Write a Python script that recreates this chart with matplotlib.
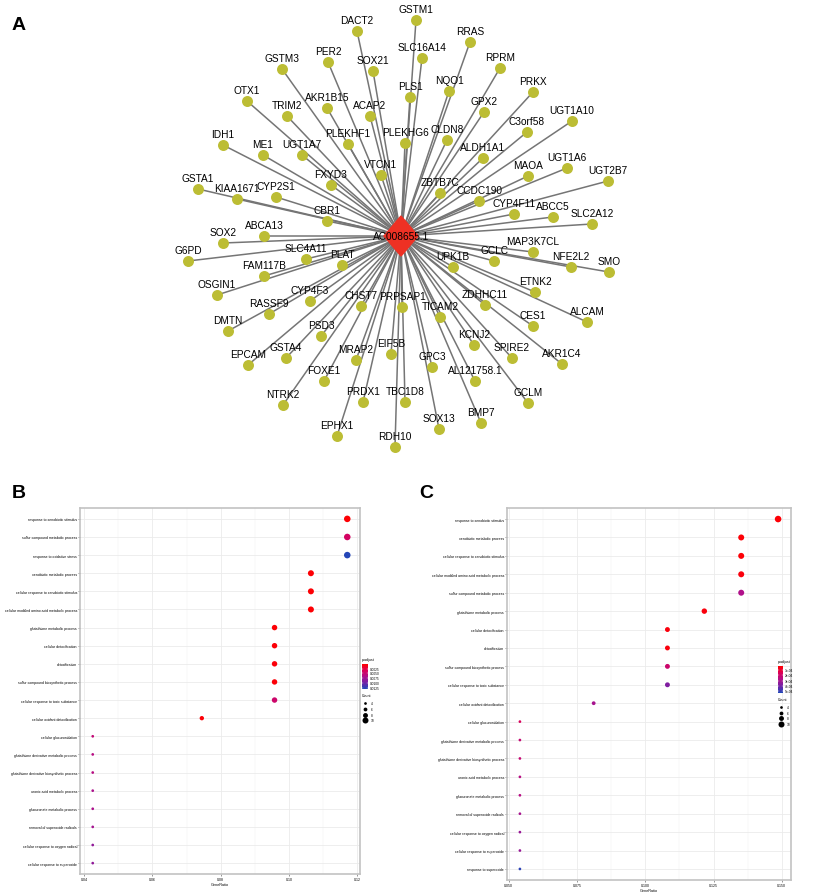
import matplotlib
matplotlib.use('Agg')
import matplotlib.pyplot as plt
import numpy as np
from matplotlib.colors import LinearSegmentedColormap, Normalize
from matplotlib.patches import Polygon

plt.rcParams['font.family'] = ['Liberation Sans', 'DejaVu Sans']

W, H = 815, 895
DPI = 100

# ---- panel A: lncRNA - mRNA network (layout, hub at 0,0)
hub_name = 'AC008655.1'
gene_names = ['DACT2', 'GSTM1', 'RRAS', 'SLC16A14', 'RPRM', 'GSTM3', 'PER2', 'SOX21',
              'NQO1', 'PRKX', 'PLS1', 'OTX1', 'TRIM2', 'AKR1B15', 'ACAP2', 'GPX2',
              'UGT1A10', 'C3orf58', 'IDH1', 'ME1', 'UGT1A7', 'PLEKHF1', 'PLEKHG6', 'CLDN8',
              'ALDH1A1', 'UGT1A6', 'MAOA', 'UGT2B7', 'VTCN1', 'FXYD3', 'ZBTB7C', 'CCDC190',
              'GSTA1', 'KIAA1671', 'CYP2S1', 'CYP4F11', 'ABCC5', 'SLC2A12', 'CBR1', 'ABCA13',
              'SOX2', 'G6PD', 'SLC4A11', 'PLAT', 'FAM117B', 'OSGIN1', 'CYP4F3', 'RASSF9',
              'CHST7', 'PRPSAP1', 'DMTN', 'PSD3', 'EPCAM', 'GSTA4', 'MRAP2', 'EIF5B',
              'FOXE1', 'NTRK2', 'PRDX1', 'TBC1D8', 'EPHX1', 'RDH10', 'MAP3K7CL', 'GCLC',
              'UPK1B', 'NFE2L2', 'SMO', 'ETNK2', 'ZDHHC11', 'TICAM2', 'ALCAM', 'CES1',
              'KCNJ2', 'SPIRE2', 'AKR1C4', 'GPC3', 'AL121758.1', 'GCLM', 'BMP7', 'SOX13']
gene_x = [-44, 15, 69, 21, 99, -119, -73, -28,
          48, 132, 9, -154, -114, -74, -31, 83,
          171, 126, -178, -138, -99, -53, 4, 46,
          82, 166, 127, 207, -20, -70, 39, 78,
          -203, -164, -125, 113, 152, 191, -74, -137,
          -178, -213, -95, -59, -137, -184, -91, -132,
          -40, 1, -173, -80, -153, -115, -45, -10,
          -77, -118, -38, 4, -64, -6, 132, 93,
          52, 170, 208, 134, 84, 39, 186, 132,
          73, 111, 161, 31, 74, 127, 80, 38]
gene_y = [205, 216, 194, 178, 168, 167, 174, 165,
          145, 144, 139, 135, 120, 128, 120, 124,
          115, 104, 91, 81, 81, 92, 93, 96,
          78, 68, 60, 55, 61, 51, 43, 35,
          47, 37, 39, 22, 19, 12, 15, 0,
          -7, -25, -23, -29, -40, -59, -65, -78,
          -70, -71, -95, -100, -129, -122, -124, -118,
          -145, -169, -166, -166, -200, -211, -16, -25,
          -31, -31, -36, -56, -69, -81, -86, -90,
          -109, -122, -128, -131, -145, -167, -187, -193]

# ---- panel B: GO enrichment, set 1
terms_b = ['response to xenobiotic stimulus', 'sulfur compound metabolic process',
           'response to oxidative stress', 'xenobiotic metabolic process',
           'cellular response to xenobiotic stimulus',
           'cellular modified amino acid metabolic process', 'glutathione metabolic process',
           'cellular detoxification', 'detoxification', 'sulfur compound biosynthetic process',
           'cellular response to toxic substance', 'cellular oxidant detoxification',
           'cellular glucuronidation', 'glutathione derivative metabolic process',
           'glutathione derivative biosynthetic process', 'uronic acid metabolic process',
           'glucuronate metabolic process', 'removal of superoxide radicals',
           'cellular response to oxygen radical', 'cellular response to superoxide']
count_b = [11, 11, 11, 10, 10, 10, 9, 9, 9, 9, 9, 7, 4, 4, 4, 4, 4, 4, 4, 4]
padj_b = [0.0003, 0.0040, 0.0128, 0.0003, 0.0003, 0.0003, 0.0003, 0.0004, 0.0005, 0.0004,
          0.0045, 0.0004, 0.0052, 0.0060, 0.0060, 0.0068, 0.0068, 0.0072, 0.0082, 0.0082]
total_b = 94
padj_ticks_b = [0.0025, 0.0050, 0.0075, 0.0100, 0.0125]
padj_labels_b = ['0.0025', '0.0050', '0.0075', '0.0100', '0.0125']
xticks_b = [0.04, 0.06, 0.08, 0.10, 0.12]
xlabels_b = ['0.04', '0.06', '0.08', '0.10', '0.12']

# ---- panel C: GO enrichment, set 2
terms_c = ['response to xenobiotic stimulus', 'xenobiotic metabolic process',
           'cellular response to xenobiotic stimulus',
           'cellular modified amino acid metabolic process', 'sulfur compound metabolic process',
           'glutathione metabolic process', 'cellular detoxification', 'detoxification',
           'sulfur compound biosynthetic process', 'cellular response to toxic substance',
           'cellular oxidant detoxification', 'cellular glucuronidation',
           'glutathione derivative metabolic process',
           'glutathione derivative biosynthetic process', 'uronic acid metabolic process',
           'glucuronate metabolic process', 'removal of superoxide radicals',
           'cellular response to oxygen radical', 'cellular response to superoxide',
           'response to superoxide']
count_c = [11, 10, 10, 10, 10, 9, 8, 8, 8, 8, 6, 4, 4, 4, 4, 4, 4, 4, 4, 4]
padj_c = [0.00003, 0.00003, 0.00003, 0.00004, 0.00028, 0.00004, 0.00004, 0.00004, 0.00020,
          0.00038, 0.00030, 0.00016, 0.00022, 0.00022, 0.00026, 0.00026, 0.00030, 0.00033,
          0.00033, 0.00052]
total_c = 74
padj_ticks_c = [0.0001, 0.0002, 0.0003, 0.0004, 0.0005]
padj_labels_c = ['1e-04', '2e-04', '3e-04', '4e-04', '5e-04']
xticks_c = [0.050, 0.075, 0.100, 0.125, 0.150]
xlabels_c = ['0.050', '0.075', '0.100', '0.125', '0.150']

legend_counts = [4, 6, 8, 10]

cmap = LinearSegmentedColormap.from_list(
    'padj', ['#ff0000', '#dc0058', '#b0108a', '#7222a8', '#2048b8'])


def px(v):
    return v * 72.0 / DPI


def dot_size(c):
    d = 0.55 * np.asarray(c, dtype=float) + 0.5
    return px(d) ** 2


fig = plt.figure(figsize=(W / DPI, H / DPI), dpi=DPI)

# ---------- A
ax_a = fig.add_axes([0, 1 - 470 / H, 1, 470 / H])
ax_a.set_xlim(-401, W - 401)
ax_a.set_ylim(237 - 470, 237)
ax_a.axis('off')
for gx, gy in zip(gene_x, gene_y):
    ax_a.plot([0, gx], [0, gy], color='#757575', lw=1.1, zorder=1, solid_capstyle='butt')
ax_a.scatter(gene_x, gene_y, s=px(11) ** 2, color='#bcbd34', linewidths=0, zorder=2)
for name, gx, gy in zip(gene_names, gene_x, gene_y):
    ax_a.text(gx, gy + 11, name, ha='center', va='center', fontsize=7.3, zorder=3)
ax_a.add_patch(Polygon([(0, 20), (17, 0), (0, -20), (-17, 0)], closed=True,
                       color='#ee3124', zorder=4))
ax_a.text(0, 0, hub_name, ha='center', va='center', fontsize=7.3, zorder=5)


# ---------- B and C
def dot_panel(rect, terms, counts, padj, total, norm, xticks, xlabels, step):
    ax = fig.add_axes(rect)
    y = np.arange(len(terms))
    ratio = np.asarray(counts) / total
    ax.scatter(ratio, y, s=dot_size(counts), c=padj, cmap=cmap, norm=norm,
               linewidths=0, zorder=3)
    span = ratio.max() - ratio.min()
    ax.set_xlim(ratio.min() - 0.05 * span, ratio.max() + 0.05 * span)
    ax.set_ylim(len(terms) - 1 + 0.6, -0.6)
    ax.set_yticks(y)
    ax.set_yticklabels(terms, fontsize=2.5)
    ax.set_xticks(xticks)
    ax.set_xticklabels(xlabels, fontsize=2.5)
    ax.set_xticks(np.array(xticks[:-1]) + step / 2, minor=True)
    ax.tick_params(length=1.2, width=0.4, color='#444444', pad=1)
    ax.tick_params(which='minor', length=0)
    ax.grid(True, which='major', color='#ebebeb', lw=0.6, zorder=0)
    ax.grid(True, which='minor', axis='x', color='#f2f2f2', lw=0.35, zorder=0)
    ax.set_axisbelow(True)
    for sp in ax.spines.values():
        sp.set_color('#c2c2c2')
        sp.set_linewidth(1.2)
    ax.set_xlabel('GeneRatio', fontsize=2.7, labelpad=1)
    return ax


norm_b = Normalize(0.0001, 0.0130)
norm_c = Normalize(0.00002, 0.00054)
dot_panel([80 / W, 1 - 875 / H, 280 / W, 366 / H], terms_b, count_b, padj_b, total_b,
          norm_b, xticks_b, xlabels_b, 0.02)
dot_panel([507 / W, 1 - 881 / H, 284 / W, 372 / H], terms_c, count_c, padj_c, total_c,
          norm_c, xticks_c, xlabels_c, 0.025)

# ---------- overlay: legends and panel letters (pixel coordinates)
ov = fig.add_axes([0, 0, 1, 1], zorder=10)
ov.axis('off')


def legend(x0, y0, bar_w, bar_h, norm, ticks, labels, cnt_y0, cnt_dy):
    ov.text(x0, y0 - 3, 'p.adjust', fontsize=2.6, ha='left', va='bottom')
    grad = np.linspace(0, 1, 100).reshape(-1, 1)
    ov.imshow(grad, cmap=cmap, aspect='auto', extent=(x0, x0 + bar_w, y0 + bar_h, y0),
              interpolation='bilinear')
    for t, lab in zip(ticks, labels):
        ty = y0 + norm(t) * bar_h
        ov.plot([x0, x0 + 1.2], [ty, ty], color='white', lw=0.3)
        ov.plot([x0 + bar_w - 1.2, x0 + bar_w], [ty, ty], color='white', lw=0.3)
        ov.text(x0 + bar_w + 2, ty, lab, fontsize=2.3, ha='left', va='center')
    ov.text(x0, cnt_y0 - 6, 'Count', fontsize=2.6, ha='left', va='bottom')
    for i, c in enumerate(legend_counts):
        cy = cnt_y0 + i * cnt_dy
        ov.scatter([x0 + 3], [cy], s=dot_size(c), color='black', linewidths=0)
        ov.text(x0 + 9, cy, str(c), fontsize=2.3, ha='left', va='center')


legend(362, 665, 6, 25, norm_b, padj_ticks_b, padj_labels_b, 704, 5.8)
legend(778, 667, 5, 27, norm_c, padj_ticks_c, padj_labels_c, 708, 5.6)

ov.text(19, 25, 'A', fontsize=14, fontweight='bold', ha='center', va='center')
ov.text(19, 493, 'B', fontsize=14, fontweight='bold', ha='center', va='center')
ov.text(426, 493, 'C', fontsize=14, fontweight='bold', ha='center', va='center')
ov.set_xlim(0, W)
ov.set_ylim(H, 0)

fig.savefig('out.png', dpi=DPI)
